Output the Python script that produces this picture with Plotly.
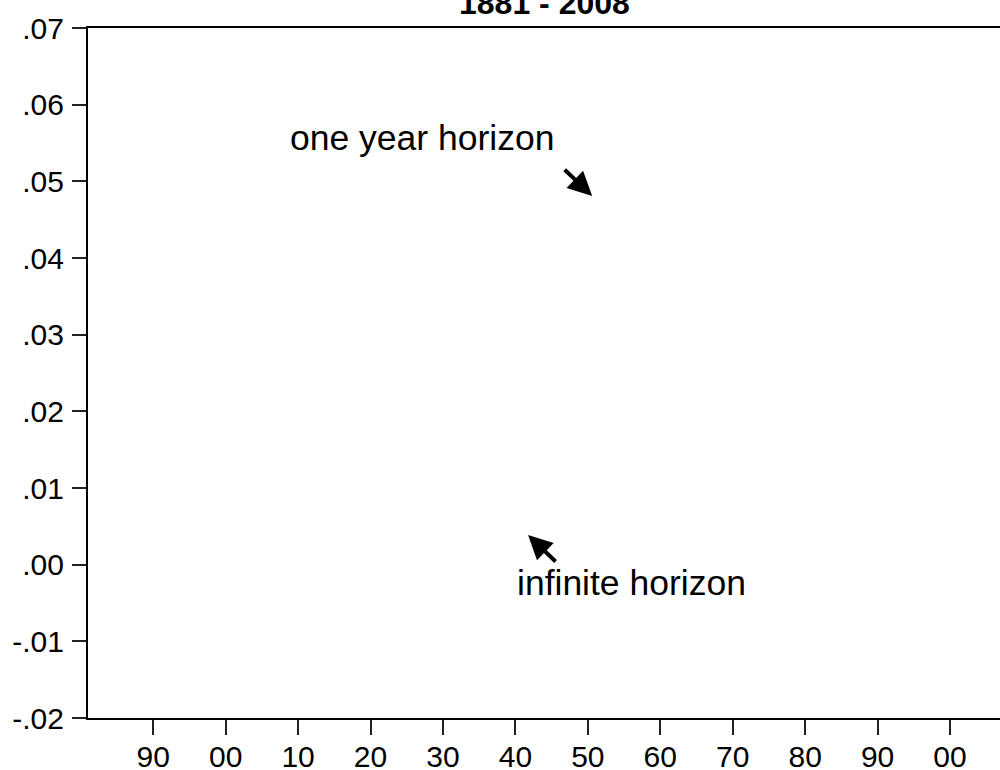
import plotly.graph_objects as go

# ---- data ----
title_text = "1881 - 2008"
x_range_years = [1881, 2008]
y_range_vals = [-0.02, 0.07]
x_tick_years = [1890, 1900, 1910, 1920, 1930, 1940, 1950, 1960, 1970, 1980, 1990, 2000]
x_tick_labels = ["90", "00", "10", "20", "30", "40", "50", "60", "70", "80", "90", "00"]
y_tick_vals = [-0.02, -0.01, 0.0, 0.01, 0.02, 0.03, 0.04, 0.05, 0.06, 0.07]
y_tick_labels = ["-.02", "-.01", ".00", ".01", ".02", ".03", ".04", ".05", ".06", ".07"]
label_texts = ["one year horizon", "infinite horizon"]
label_x = [1927.05, 1956.04]
label_y = [0.0557, -0.0024]
arrow_tip_x = [1950.6, 1941.75]
arrow_tip_y = [0.0481, 0.00387]
arrow_tail_x = [1946.6, 1945.75]
arrow_tail_y = [0.0517, 0.00022]

FONT = "Liberation Sans, Arial, sans-serif"

fig = go.Figure()
fig.add_trace(go.Scatter(x=[], y=[], mode="lines", showlegend=False))

for t, x, y in zip(label_texts, label_x, label_y):
    fig.add_annotation(x=x, y=y, xref="x", yref="y", text=t, showarrow=False,
                       font=dict(family=FONT, size=35.5, color="black"),
                       xanchor="center", yanchor="middle")

for tx, ty, sx, sy in zip(arrow_tip_x, arrow_tip_y, arrow_tail_x, arrow_tail_y):
    fig.add_annotation(x=tx, y=ty, xref="x", yref="y", ax=sx, ay=sy,
                       axref="x", ayref="y", text="", showarrow=True,
                       arrowhead=2, arrowsize=1.2, arrowwidth=4, arrowcolor="black",
                       standoff=0, startstandoff=0)

fig.add_annotation(x=0.496, y=1, xref="paper", yref="paper", text="<b>" + title_text + "</b>",
                   showarrow=False, xanchor="center", yanchor="bottom", yshift=5,
                   font=dict(family=FONT, size=32, color="black"))

fig.update_layout(
    width=1008, height=770,
    margin=dict(l=88, r=0, t=28, b=52, autoexpand=False),
    paper_bgcolor="white", plot_bgcolor="white",
    showlegend=False,
    xaxis=dict(range=x_range_years, tickvals=x_tick_years, ticktext=x_tick_labels,
               automargin=False,
               showgrid=False, zeroline=False, showline=True, linecolor="black",
               linewidth=2, mirror=True, ticks="outside", ticklen=15, tickwidth=1.5,
               tickcolor="#222", ticklabelstandoff=-4,
               tickfont=dict(family=FONT, size=30, color="black")),
    yaxis=dict(range=y_range_vals, tickvals=y_tick_vals, ticktext=y_tick_labels,
               automargin=False,
               showgrid=False, zeroline=False, showline=True, linecolor="black",
               linewidth=2, mirror=False, ticks="outside", ticklen=14, tickwidth=1.5,
               tickcolor="#222", ticklabelstandoff=2,
               tickfont=dict(family=FONT, size=30, color="black")),
)

fig.write_html(
    "out.html",
    config={"displayModeBar": False},
    post_script="document.body.style.margin='0';document.body.style.overflow='hidden';",
)
